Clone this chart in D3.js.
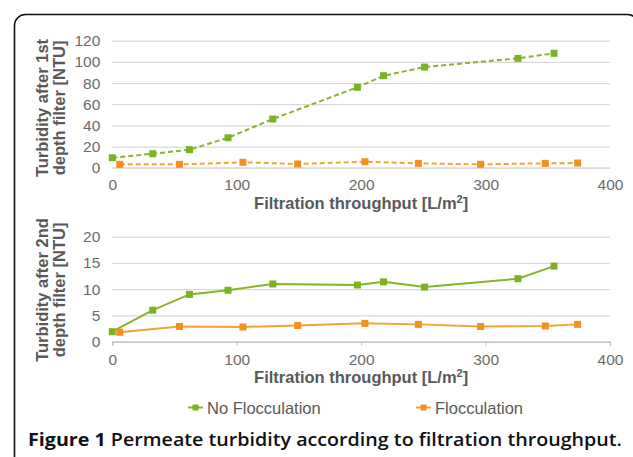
<!DOCTYPE html>
<html>
<head>
<meta charset="utf-8">
<script src="https://cdn.jsdelivr.net/npm/d3@7"></script>
<style>
  body { margin: 0; background: #fff; }
  svg { display: block; }
</style>
</head>
<body>
<svg width="633" height="457"></svg>
<script>
// throughput in L/m2, turbidity in NTU
let throughputNoFloc = [0, 32.5, 62, 93, 129, 197, 218, 251, 326, 355];
let turbidity1NoFloc = [9.4, 13.2, 17.0, 28.3, 46.0, 76.0, 86.9, 95.1, 103.3, 108.1];
let turbidity2NoFloc = [1.9, 6.0, 9.0, 9.8, 11.0, 10.8, 11.4, 10.4, 12.0, 14.4];

let throughputFloc = [6, 54, 105, 149, 203, 246, 296, 348, 374];
let turbidity1Floc = [3.2, 3.2, 5.1, 3.5, 5.7, 4.1, 3.2, 4.1, 4.4];
let turbidity2Floc = [1.8, 2.9, 2.8, 3.1, 3.5, 3.3, 2.9, 3.0, 3.3];

let xTicks = [0, 100, 200, 300, 400];
let yTicks1 = [0, 20, 40, 60, 80, 100, 120];
let yTicks2 = [0, 5, 10, 15, 20];

let seriesNames = ["No Flocculation", "Flocculation"];

function drawChart()
{
  let svg = d3.select("svg");
  let green = "#7cb224", greenLine = "#86b52c",
    orange = "#f39020", orangeLine = "#f4a436",
    grid = "#d9d9d9", tickText = "#6b6b6b", titleText = "#595959";
  let sans = "'Liberation Sans', Arial, sans-serif";

  // frame
  svg.append("rect")
    .attr("x", 14.5).attr("y", 14.5)
    .attr("width", 624).attr("height", 470)
    .attr("rx", 11).attr("ry", 11)
    .attr("fill", "none").attr("stroke", "#111").attr("stroke-width", 1.6);

  let x = d3.scaleLinear().domain([0, 400]).range([112.3, 610]);

  function panel(yRange, yMax, yTicks, noFlocY, flocY, dashed, axisTicks, titleLines, yTitleMid, xTitleY) {
    let y = d3.scaleLinear().domain([0, yMax]).range(yRange);
    let g = svg.append("g");

    // gridlines
    g.append("g")
      .attr("transform", "translate(" + x.range()[0] + ",0)")
      .call(d3.axisLeft(y).tickValues(yTicks).tickSize(-(x.range()[1] - x.range()[0])).tickFormat(""))
      .call(a => a.select(".domain").remove())
      .call(a => a.selectAll("line").attr("stroke", grid).attr("stroke-width", 1.2));

    // y tick labels
    g.append("g")
      .attr("transform", "translate(" + x.range()[0] + ",0)")
      .call(d3.axisLeft(y).tickValues(yTicks).tickSize(0).tickPadding(12))
      .call(a => a.select(".domain").remove())
      .call(a => a.selectAll("text")
        .attr("fill", tickText)
        .style("font", "15.5px " + sans));

    // x axis
    let xa = g.append("g")
      .attr("transform", "translate(0," + y(0) + ")")
      .call(d3.axisBottom(x).tickValues(xTicks).tickSize(axisTicks ? 4 : 0).tickPadding(axisTicks ? 8 : 11));
    xa.select(".domain").attr("stroke", axisTicks ? "#bfbfbf" : grid).attr("stroke-width", 1.2);
    xa.selectAll("line").attr("stroke", "#bfbfbf");
    xa.selectAll("text")
      .attr("fill", tickText)
      .style("font", "15.5px " + sans);

    // x title
    let xt = g.append("text")
      .attr("x", (x.range()[0] + x.range()[1]) / 2)
      .attr("y", xTitleY)
      .attr("text-anchor", "middle")
      .attr("fill", titleText)
      .style("font", "bold 16.5px " + sans);
    xt.append("tspan").text("Filtration throughput [L/m");
    xt.append("tspan").attr("dy", -6).style("font-size", "11px").text("2");
    xt.append("tspan").attr("dy", 6).text("]");

    // y title (two lines)
    let yt = g.append("text")
      .attr("transform", "translate(0," + yTitleMid + ") rotate(-90)")
      .attr("text-anchor", "middle")
      .attr("fill", titleText)
      .style("font", "bold 16.5px " + sans);
    yt.append("tspan").attr("x", 0).attr("y", 48).text(titleLines[0]);
    yt.append("tspan").attr("x", 0).attr("y", 65).text(titleLines[1]);

    let series = [
      { xs: throughputNoFloc, ys: noFlocY, line: greenLine, fill: green },
      { xs: throughputFloc, ys: flocY, line: orangeLine, fill: orange }
    ];

    let line = d3.line().x(d => x(d[0])).y(d => y(d[1]));

    series.forEach(s => {
      let pts = s.xs.map((v, i) => [v, s.ys[i]]);
      g.append("path")
        .attr("d", line(pts))
        .attr("fill", "none")
        .attr("stroke", s.line)
        .attr("stroke-width", 2)
        .attr("stroke-dasharray", dashed ? "5,3" : null);
      g.selectAll(null)
        .data(pts)
        .enter().append("rect")
        .attr("x", d => x(d[0]) - 3.5)
        .attr("y", d => y(d[1]) - 3.5)
        .attr("width", 7).attr("height", 7)
        .attr("fill", s.fill);
    });
  }

  panel([167.7, 40.7], 120, yTicks1, turbidity1NoFloc, turbidity1Floc, true, false,
    ["Turbidity after 1st", "depth filter [NTU]"], 108, 209);
  panel([341.7, 236.7], 20, yTicks2, turbidity2NoFloc, turbidity2Floc, false, true,
    ["Turbidity after 2nd", "depth filter [NTU]"], 290, 383);

  // legend
  let legendX = [188, 416];
  let legendCols = [[greenLine, green], [orangeLine, orange]];
  seriesNames.forEach((name, i) => {
    let lg = svg.append("g").attr("transform", "translate(" + legendX[i] + ",407.5)");
    lg.append("line").attr("x1", 0).attr("x2", 15).attr("y1", 0).attr("y2", 0)
      .attr("stroke", legendCols[i][0]).attr("stroke-width", 2);
    lg.append("rect").attr("x", 4.5).attr("y", -3).attr("width", 6).attr("height", 6)
      .attr("fill", legendCols[i][1]);
    lg.append("text").attr("x", 19).attr("y", 6)
      .attr("fill", titleText)
      .style("font", "16.5px " + sans)
      .text(name);
  });

  // caption
  let cap = svg.append("text")
    .attr("x", 28).attr("y", 446)
    .attr("textLength", 594)
    .attr("lengthAdjust", "spacingAndGlyphs")
    .attr("fill", "#111")
    .style("font", "bold 17.5px 'Open Sans', 'Noto Sans', sans-serif");
  cap.append("tspan").text("Figure 1 ");
  cap.append("tspan").style("font-weight", 600).text("Permeate turbidity according to filtration throughput.");
}

drawChart();
</script>
</body>
</html>
